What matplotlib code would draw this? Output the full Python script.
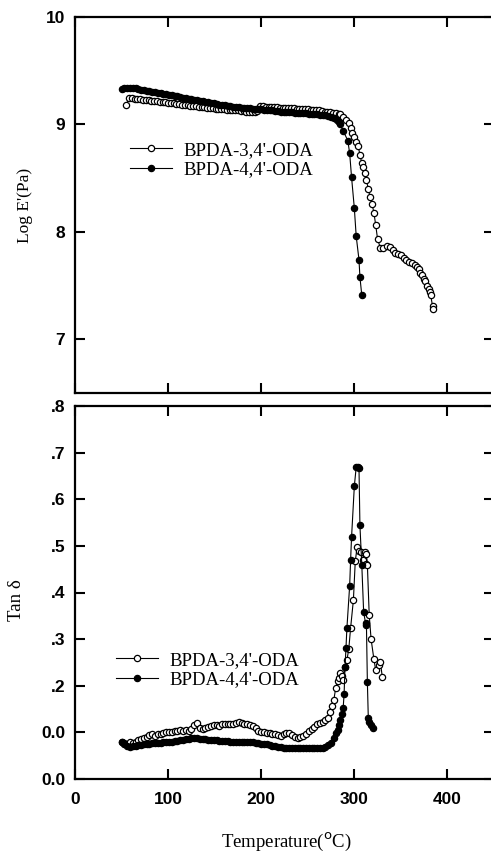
import numpy as np
import matplotlib
matplotlib.use("Agg")
import matplotlib.pyplot as plt

# ---- data ----
# storage modulus, BPDA-3,4'-ODA (open circles)
t_e_34 = [55, 58, 61, 64, 67, 70, 73, 76, 79, 82, 85, 88, 91, 94, 97, 100, 103, 106, 109, 112,
          115, 118, 121, 124, 127, 130, 133, 136, 139, 142, 145, 148, 151, 154, 157, 160, 163, 166,
          169, 172, 175, 178, 181, 184, 187, 190, 193, 196, 199, 202, 205, 208, 211, 214, 217, 220,
          223, 226, 229, 232, 235, 238, 241, 244, 247, 250, 253, 256, 259, 262, 265, 268, 271, 274,
          277, 280, 283, 285, 288, 291, 294, 296, 298, 300, 302, 304, 306, 308, 309, 311, 313, 315,
          317, 319, 321, 323, 325, 328, 331, 335, 338, 341, 344, 347, 350, 353, 356, 359, 362, 365,
          367, 369, 371, 373, 375, 376, 378, 380, 381, 382, 384, 385]
e_34 = [9.18, 9.25, 9.25, 9.24, 9.24, 9.235, 9.23, 9.23, 9.225, 9.22, 9.22, 9.215, 9.21, 9.21,
        9.205, 9.20, 9.20, 9.195, 9.19, 9.19, 9.185, 9.18, 9.18, 9.175, 9.17, 9.17, 9.165, 9.16,
        9.16, 9.155, 9.15, 9.15, 9.145, 9.14, 9.14, 9.14, 9.135, 9.135, 9.13, 9.13, 9.13, 9.125,
        9.125, 9.12, 9.12, 9.12, 9.12, 9.125, 9.17, 9.17, 9.165, 9.165, 9.16, 9.16, 9.16, 9.155,
        9.155, 9.155, 9.15, 9.15, 9.15, 9.145, 9.145, 9.14, 9.14, 9.14, 9.135, 9.135, 9.13, 9.13,
        9.125, 9.12, 9.12, 9.115, 9.11, 9.105, 9.10, 9.10, 9.07, 9.04, 9.01, 8.97, 8.92, 8.88,
        8.84, 8.80, 8.72, 8.64, 8.60, 8.55, 8.48, 8.40, 8.32, 8.26, 8.18, 8.06, 7.93, 7.85, 7.85,
        7.87, 7.86, 7.83, 7.80, 7.79, 7.78, 7.76, 7.74, 7.72, 7.71, 7.69, 7.67, 7.65, 7.62, 7.60,
        7.56, 7.54, 7.50, 7.47, 7.44, 7.41, 7.31, 7.28]

# storage modulus, BPDA-4,4'-ODA (filled circles)
t_e_44 = [50, 53, 56, 59, 62, 65, 68, 71, 74, 77, 80, 83, 86, 89, 92, 95, 98, 101, 104, 107, 110,
          113, 116, 119, 122, 125, 128, 131, 134, 137, 140, 143, 146, 149, 152, 155, 158, 161, 164,
          167, 170, 173, 176, 179, 182, 185, 188, 191, 194, 197, 200, 203, 206, 209, 212, 215, 218,
          221, 224, 227, 230, 233, 236, 239, 242, 245, 248, 251, 254, 257, 260, 263, 266, 269, 272,
          275, 278, 281, 283, 285, 288, 293, 295, 297, 300, 302, 305, 306, 308]
e_44 = [9.33, 9.34, 9.34, 9.34, 9.34, 9.335, 9.33, 9.325, 9.32, 9.315, 9.31, 9.305, 9.30, 9.295,
        9.29, 9.285, 9.28, 9.275, 9.27, 9.265, 9.26, 9.255, 9.25, 9.245, 9.24, 9.235, 9.23, 9.225,
        9.22, 9.215, 9.21, 9.205, 9.20, 9.195, 9.19, 9.185, 9.18, 9.18, 9.175, 9.17, 9.165, 9.165,
        9.16, 9.155, 9.155, 9.15, 9.15, 9.145, 9.145, 9.14, 9.14, 9.135, 9.13, 9.13, 9.13, 9.125,
        9.125, 9.12, 9.12, 9.12, 9.115, 9.115, 9.11, 9.11, 9.11, 9.105, 9.105, 9.10, 9.10, 9.10,
        9.095, 9.09, 9.09, 9.085, 9.08, 9.07, 9.06, 9.04, 9.02, 9.00, 8.94, 8.85, 8.73, 8.51, 8.22,
        7.96, 7.74, 7.58, 7.41]

# tan delta, BPDA-3,4'-ODA (open circles)
t_d_34 = [50, 53, 56, 59, 62, 65, 68, 71, 74, 77, 80, 83, 86, 89, 92, 95, 98, 101, 104, 107, 110,
          113, 116, 119, 122, 125, 128, 131, 134, 137, 140, 143, 146, 149, 152, 155, 158, 161, 164,
          167, 170, 173, 176, 179, 182, 185, 188, 191, 194, 197, 200, 203, 206, 209, 212, 215, 218,
          221, 224, 227, 230, 233, 236, 239, 242, 245, 248, 251, 254, 257, 260, 263, 266, 269, 272,
          274, 276, 278, 280, 282, 283, 285, 287, 288, 290, 292, 294, 296, 299, 301, 303, 305, 307,
          309, 311, 312, 313, 314, 316, 318, 321, 323, 326, 328, 330]
d_34 = [0.079, 0.077, 0.076, 0.079, 0.078, 0.080, 0.083, 0.086, 0.089, 0.091, 0.094, 0.096, 0.093,
        0.096, 0.097, 0.098, 0.100, 0.101, 0.100, 0.103, 0.102, 0.105, 0.104, 0.106, 0.104, 0.108,
        0.115, 0.120, 0.110, 0.108, 0.110, 0.112, 0.114, 0.116, 0.115, 0.114, 0.117, 0.119, 0.118,
        0.117, 0.119, 0.121, 0.122, 0.121, 0.119, 0.118, 0.116, 0.114, 0.110, 0.104, 0.100, 0.101,
        0.098, 0.099, 0.097, 0.096, 0.094, 0.093, 0.096, 0.099, 0.098, 0.095, 0.091, 0.088, 0.090,
        0.093, 0.097, 0.103, 0.108, 0.112, 0.117, 0.120, 0.123, 0.126, 0.130, 0.144, 0.156, 0.170,
        0.195, 0.210, 0.216, 0.227, 0.220, 0.212, 0.240, 0.255, 0.278, 0.324, 0.384, 0.467, 0.497,
        0.490, 0.486, 0.470, 0.486, 0.462, 0.482, 0.460, 0.351, 0.300, 0.257, 0.233, 0.244, 0.251,
        0.219]

# tan delta, BPDA-4,4'-ODA (filled circles)
t_d_44 = [50, 53, 56, 59, 62, 65, 68, 71, 74, 77, 80, 83, 86, 89, 92, 95, 98, 101, 104, 107, 110,
          113, 116, 119, 122, 125, 128, 131, 134, 137, 140, 143, 146, 149, 152, 155, 158, 161, 164,
          167, 170, 173, 176, 179, 182, 185, 188, 191, 194, 197, 200, 203, 206, 209, 212, 215, 218,
          221, 224, 227, 230, 233, 236, 239, 242, 245, 248, 251, 254, 257, 260, 263, 266, 269, 272,
          275, 278, 280, 282, 284, 285, 287, 288, 289, 290, 291, 292, 295, 296, 297, 300, 302, 304,
          305, 306, 308, 310, 312, 313, 314, 315, 316, 318, 320]
d_44 = [0.079, 0.074, 0.070, 0.069, 0.070, 0.071, 0.072, 0.073, 0.074, 0.075, 0.076, 0.077, 0.077,
        0.078, 0.078, 0.079, 0.079, 0.080, 0.080, 0.081, 0.082, 0.083, 0.084, 0.085, 0.086, 0.087,
        0.088, 0.087, 0.086, 0.085, 0.085, 0.084, 0.084, 0.083, 0.083, 0.082, 0.082, 0.081, 0.081,
        0.080, 0.080, 0.080, 0.080, 0.080, 0.080, 0.080, 0.079, 0.079, 0.078, 0.077, 0.076, 0.075,
        0.076, 0.073, 0.071, 0.070, 0.069, 0.068, 0.067, 0.066, 0.066, 0.066, 0.066, 0.066, 0.066,
        0.066, 0.066, 0.066, 0.066, 0.066, 0.066, 0.066, 0.066, 0.068, 0.072, 0.078, 0.088, 0.098,
        0.105, 0.115, 0.126, 0.140, 0.152, 0.182, 0.240, 0.280, 0.323, 0.415, 0.470, 0.518, 0.628,
        0.669, 0.670, 0.668, 0.544, 0.460, 0.358, 0.335, 0.330, 0.208, 0.131, 0.122, 0.116, 0.109]

e_ticks = [7, 8, 9, 10]
d_ticks = [0.0, 0.1, 0.2, 0.3, 0.4, 0.5, 0.6, 0.7, 0.8]
d_ticklabels = ["0.0", "0.0", ".2", ".3", ".4", ".5", ".6", ".7", ".8"]
t_ticks = [0, 100, 200, 300, 400]
labels = ["BPDA-3,4'-ODA", "BPDA-4,4'-ODA"]

W, H = 491, 852
fig = plt.figure(figsize=(W / 100, H / 100), dpi=100)

def box(l, t, r, b):
    return [l / W, 1 - b / H, (r - l) / W, (b - t) / H]

ax1 = fig.add_axes(box(75, 17, 494, 393))
ax2 = fig.add_axes(box(75, 406, 494, 779))

serif = "Liberation Serif"
sans = "Liberation Sans"

open_kw = dict(color="black", lw=0.8, marker="o", ms=4.5, mfc="white", mec="black", mew=0.9)
fill_kw = dict(color="black", lw=0.8, marker="o", ms=4.5, mfc="black", mec="black", mew=0.9)

ax1.plot(t_e_34, e_34, label=labels[0], **open_kw)
ax1.plot(t_e_44, e_44, label=labels[1], **fill_kw)
ax2.plot(t_d_34, d_34, label=labels[0], **open_kw)
ax2.plot(t_d_44, d_44, label=labels[1], **fill_kw)

for ax in (ax1, ax2):
    ax.set_xlim(0, 450)
    ax.set_xticks(t_ticks)
    for s in ax.spines.values():
        s.set_linewidth(1.6)
    ax.tick_params(direction="in", length=7, width=1.5, top=True, right=True,
                   labelsize=12.5, pad=7)

ax1.set_ylim(6.5, 10)
ax1.set_yticks(e_ticks)
ax1.set_yticklabels([str(v) for v in e_ticks], family=sans, weight="bold")
ax1.tick_params(labelbottom=False)

ax2.set_ylim(0, 0.8)
ax2.set_yticks(d_ticks)
ax2.set_yticklabels(d_ticklabels, family=sans, weight="bold")
ax2.set_xticklabels([str(v) for v in t_ticks], family=sans, weight="bold")
ax2.tick_params(axis="x", pad=9)

ax1.set_ylabel("Log E'(Pa)", family=serif, fontsize=12.5)
ax1.yaxis.set_label_coords(-42 / 419, 0.5)
ax2.set_ylabel("Tan δ", family=serif, fontsize=13.5)
ax2.yaxis.set_label_coords(-50 / 419, 0.48)
ax2.set_xlabel("Temperature($^{\\rm o}$C)", family=serif, fontsize=13.5)
ax2.xaxis.set_label_coords(211 / 419, -63 / 373)
ax2.xaxis.label.set_va("center")

leg_kw = dict(frameon=False, prop={"family": serif, "size": 13.5}, handlelength=2.25,
              handletextpad=0.6, labelspacing=0.12, borderaxespad=0, borderpad=0)
ax1.legend(loc="center left", bbox_to_anchor=(55 / 419, 1 - 143 / 376), **leg_kw)
ax2.legend(loc="center left", bbox_to_anchor=(41 / 419, 1 - 264 / 373), **leg_kw)

fig.savefig("out.png", dpi=100)
